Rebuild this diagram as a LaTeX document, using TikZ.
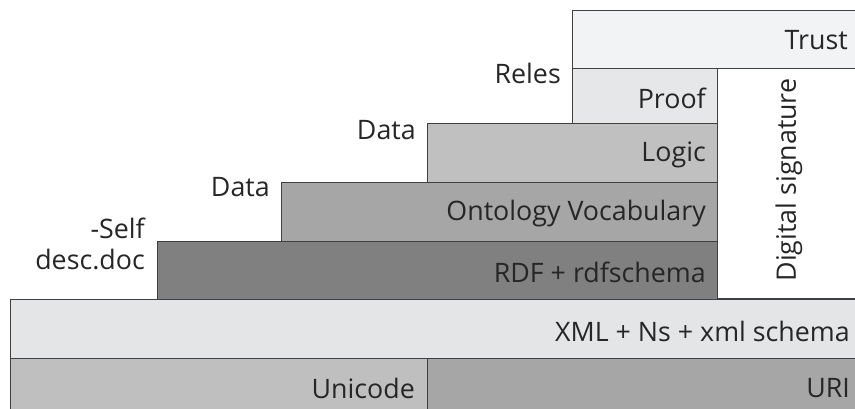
\documentclass[tikz,border=0pt]{standalone}
\usepackage{fontspec}
\setmainfont{Open Sans}
\definecolor{linec}{HTML}{404040}
\definecolor{txt}{HTML}{262626}
\definecolor{ctrust}{HTML}{F2F3F5}
\definecolor{cproof}{HTML}{E6E7E9}
\definecolor{cxml}{HTML}{E4E5E7}
\definecolor{clogic}{HTML}{C0C0C0}
\definecolor{conto}{HTML}{A6A6A6}
\definecolor{crdf}{HTML}{808080}
\definecolor{cuni}{HTML}{BFBFBF}
\definecolor{curi}{HTML}{A6A6A6}
\begin{document}
\begin{tikzpicture}[x=1pt,y=-1pt,
  layer/.style={draw=linec, line width=0.9pt},
  lbl/.style={anchor=east, inner sep=0pt, text=txt, font=\fontsize{26.8}{30}\selectfont},
  side/.style={anchor=east, inner sep=0pt, text=txt, font=\fontsize{26.8}{30}\selectfont, align=right}]
\useasboundingbox (0,0) rectangle (855,409);
\clip (0,0) rectangle (855,409);
% layers
\path[layer, fill=ctrust] (572,10) rectangle (870,68);
\path[layer, fill=white] (717,68) rectangle (870,298);
\path[layer, fill=cproof] (572,68) rectangle (717,123);
\path[layer, fill=clogic] (427,123) rectangle (717,182);
\path[layer, fill=conto] (281,182) rectangle (717,241);
\path[layer, fill=crdf] (157,241) rectangle (717,299);
\path[layer, fill=cxml] (10,299) rectangle (870,358);
\path[layer, fill=cuni] (10,358) rectangle (427,420);
\path[layer, fill=curi] (427,358) rectangle (870,420);
% texts in boxes
\node[lbl] (trust) at (848,40) {Trust};
\node[lbl] (proof) at (706,98) {Proof};
\node[lbl] (logic) at (706,155) {Logic};
\node[lbl] (onto) at (706,214) {Ontology Vocabulary};
\node[lbl] (rdf) at (706,272) {RDF + rdfschema};
\node[lbl] (xml) at (850,331) {XML + Ns + xml schema};
\node[lbl] (uni) at (415,388) {Unicode};
\node[lbl] (uri) at (850,388) {URI};
\node[text=txt, font=\fontsize{26.8}{30}\selectfont, rotate=90, inner sep=0pt] (dsig) at (789,180) {Digital signature};
% side labels
\node[side] (reles) at (561,73) {Reles};
\node[side] (data1) at (416,130) {Data};
\node[side] (data2) at (270,187) {Data};
\node[side] (self) at (145,228) {-Self};
\node[side] (desc) at (145,260) {desc.doc};
\end{tikzpicture}
\end{document}
